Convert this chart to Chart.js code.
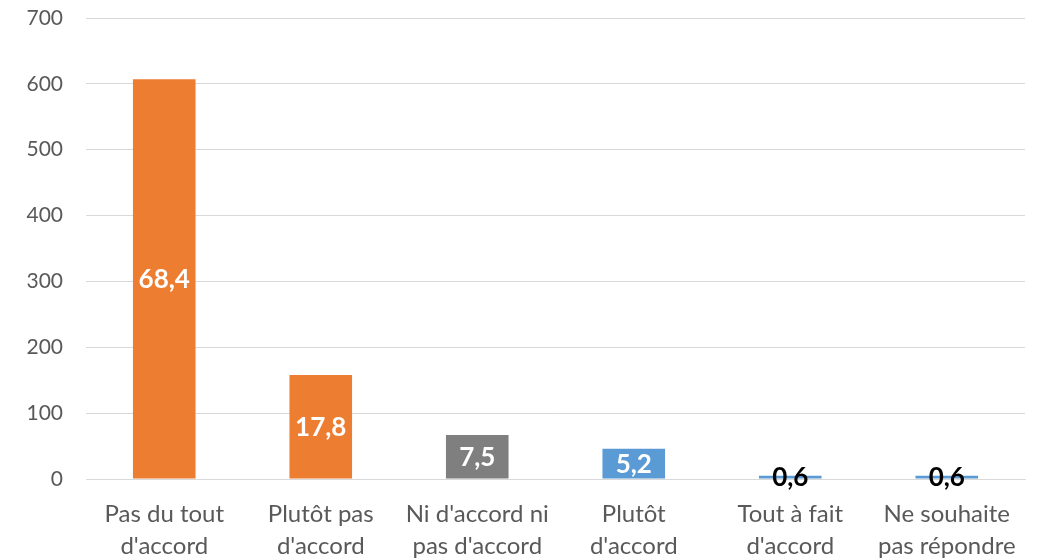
<!DOCTYPE html>
<html><head><meta charset="utf-8">
<script src="https://cdn.jsdelivr.net/npm/chart.js@4/dist/chart.umd.min.js"></script>
<style>html,body{margin:0;padding:0;background:#fff}#wrap{width:1043px;height:560px}</style>
</head><body><div id="wrap"><canvas id="c" width="1043" height="560"></canvas></div>
<script>
const categories = [["Pas du tout","d'accord"],["Plutôt pas","d'accord"],["Ni d'accord ni","pas d'accord"],["Plutôt","d'accord"],["Tout à fait","d'accord"],["Ne souhaite","pas répondre"]];
const counts = [607, 158, 67, 46, 5, 5];
const percentLabels = ["68,4","17,8","7,5","5,2","0,6","0,6"];
const barColors = ["#ED7D31","#ED7D31","#7F7F7F","#5B9BD5","#5B9BD5","#5B9BD5"];
const labelColors = ["#fff","#fff","#fff","#fff","#000","#000"];
const yTicks = [0,100,200,300,400,500,600,700];

const FONT = "Lato, 'Open Sans', sans-serif";

const labelPlugin = {
  id: 'pctLabels',
  afterDatasetsDraw(chart) {
    const ctx = chart.ctx;
    const meta = chart.getDatasetMeta(0);
    ctx.save();
    ctx.font = "bold 26px " + FONT;
    ctx.textAlign = 'center';
    ctx.textBaseline = 'middle';
    meta.data.forEach((bar, i) => {
      const p = bar.getProps(['x','y','base'], true);
      ctx.fillStyle = labelColors[i];
      const y = (p.y + p.base) / 2;
      ctx.fillText(percentLabels[i], p.x, y + 1);
    });
    ctx.restore();
  }
};

new Chart(document.getElementById('c'), {
  type: 'bar',
  data: {
    labels: categories,
    datasets: [{
      data: counts,
      backgroundColor: barColors,
      borderWidth: 0,
      categoryPercentage: 1,
      barPercentage: 0.4
    }]
  },
  options: {
    responsive: false,
    animation: false,
    devicePixelRatio: 1,
    layout: { padding: { top: 18, right: 18, left: 0, bottom: 0 } },
    plugins: { legend: { display: false }, tooltip: { enabled: false } },
    scales: {
      y: {
        min: 0, max: 700,
        afterBuildTicks(axis) { axis.ticks = yTicks.map(v => ({ value: v })); },
        afterFit(axis) { axis.width = 86; axis.paddingTop = 0; axis.paddingBottom = 0; },
        grid: { color: '#D9D9D9', lineWidth: 1, drawTicks: false },
        border: { display: false },
        ticks: { color: '#595959', font: { size: 21, family: FONT }, padding: 23 }
      },
      x: {
        afterFit(axis) { axis.height = 81; axis.paddingLeft = 0; axis.paddingRight = 0; },
        grid: { display: false, drawTicks: false },
        border: { display: true, color: '#D9D9D9', width: 1 },
        ticks: { color: '#595959', font: { size: 24, family: FONT, lineHeight: 1.3 }, padding: 20, maxRotation: 0, autoSkip: false }
      }
    }
  },
  plugins: [labelPlugin]
});
</script></body></html>
